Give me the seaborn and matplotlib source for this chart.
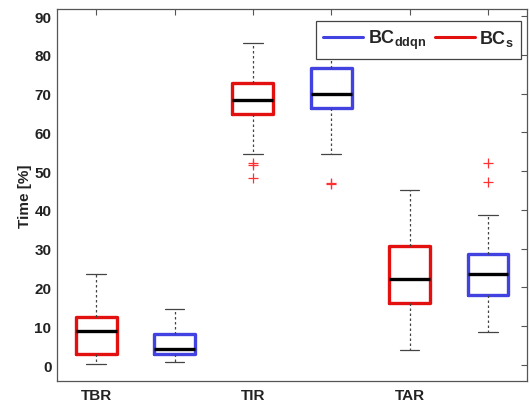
import numpy as np
import matplotlib
matplotlib.use("Agg")
import matplotlib.pyplot as plt
from matplotlib.lines import Line2D
import seaborn as sns

# Valores (estadisticos de cada caja)
groups = ["TBR", "TBR", "TIR", "TIR", "TAR", "TAR"]
methods = ["BCs", "BCddqn", "BCs", "BCddqn", "BCs", "BCddqn"]
whislo = [0.2, 0.9, 54.5, 54.3, 3.9, 8.5]
q1 = [2.9, 2.8, 64.8, 66.4, 15.9, 18.1]
med = [8.7, 4.1, 68.4, 70.0, 22.2, 23.4]
q3 = [12.5, 8.1, 72.7, 76.5, 30.8, 28.5]
whishi = [23.4, 14.5, 83.1, 86.0, 45.2, 38.8]
fliers = [[], [], [52.2, 51.6, 48.3], [47.0, 46.8], [], [52.1, 47.2]]
xlabels = ["TBR", "", "TIR", "", "TAR", ""]

colors = {"BCs": "#e31010", "BCddqn": "#4242e0"}

sns.set_style("white")
plt.rcParams["font.family"] = ["Liberation Sans", "DejaVu Sans"]
plt.rcParams["mathtext.fontset"] = "custom"
plt.rcParams["mathtext.bf"] = "Liberation Sans:bold"
plt.rcParams["mathtext.rm"] = "Liberation Sans"

stats = []
for i in range(len(groups)):
    stats.append({"whislo": whislo[i], "q1": q1[i], "med": med[i], "q3": q3[i],
                  "whishi": whishi[i], "fliers": fliers[i], "label": xlabels[i]})

fig = plt.figure(figsize=(5.3, 4.02), dpi=100)
ax = fig.add_axes([0.1075, 0.05, 0.887, 0.925])

pos = np.arange(1, len(groups) + 1)
bp = ax.bxp(stats, positions=pos, widths=0.52, patch_artist=False,
            boxprops=dict(linewidth=2.4),
            medianprops=dict(color="black", linewidth=2.4),
            whiskerprops=dict(color="#444444", linewidth=0.9, linestyle=(0, (2, 2))),
            capprops=dict(color="#444444", linewidth=0.9),
            flierprops=dict(marker="+", markeredgecolor="#ff3030", markersize=7,
                            markeredgewidth=0.9, linestyle="none"),
            capwidths=0.25)
for box, m in zip(bp["boxes"], methods):
    box.set_color(colors[m])

ax.set_xlim(0.5, 6.5)
ax.set_ylim(-4.1, 91.8)
ax.set_yticks(range(0, 91, 10))
ax.set_xticks(pos)
ax.set_xticklabels(xlabels)
ax.tick_params(direction="in", top=True, right=True, length=4, width=0.8,
               color="#555555", labelsize=11)
ax.tick_params(axis="x", pad=5)
ax.tick_params(axis="y", pad=4)
for lab in ax.get_xticklabels() + ax.get_yticklabels():
    lab.set_fontweight("bold")
    lab.set_color("#222222")
for s in ax.spines.values():
    s.set_color("#555555")
    s.set_linewidth(0.9)

ax.set_ylabel("Time [%]", fontsize=11, fontweight="bold", color="#222222", labelpad=2)

handles = [Line2D([], [], color=colors["BCddqn"], linewidth=2.2),
           Line2D([], [], color=colors["BCs"], linewidth=2.2)]
leg = ax.legend(handles, [r"$\mathbf{BC_{ddqn}}$", r"$\mathbf{BC_{s}}$"],
                loc="upper right", ncol=2, fontsize=13, fancybox=False,
                framealpha=1.0, handlelength=2.2, columnspacing=0.5,
                handletextpad=0.25, borderpad=0.4,
                bbox_to_anchor=(0.987, 0.968), borderaxespad=0.0)
leg.get_frame().set_edgecolor("#444444")
leg.get_frame().set_linewidth(0.9)

fig.savefig("out.png", dpi=100)
